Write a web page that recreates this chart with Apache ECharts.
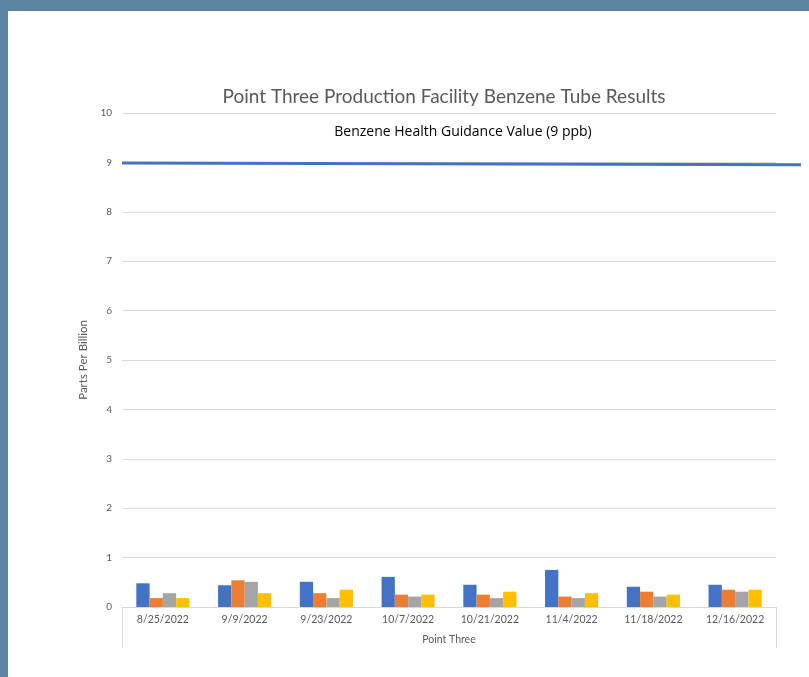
<!DOCTYPE html>
<html><head><meta charset="utf-8">
<script src="https://cdn.jsdelivr.net/npm/echarts@6/dist/echarts.min.js"></script>
<style>html,body{margin:0;padding:0;background:#5b84a0;}#c{width:809px;height:677px;}</style>
</head><body><div id="c"></div>
<script>
const categories = ['8/25/2022','9/9/2022','9/23/2022','10/7/2022','10/21/2022','11/4/2022','11/18/2022','12/16/2022'];
const seriesBlue   = [0.48, 0.44, 0.51, 0.61, 0.45, 0.75, 0.41, 0.45];
const seriesOrange = [0.18, 0.54, 0.28, 0.25, 0.25, 0.21, 0.31, 0.35];
const seriesGray   = [0.28, 0.51, 0.18, 0.21, 0.18, 0.18, 0.21, 0.31];
const seriesYellow = [0.18, 0.28, 0.35, 0.25, 0.31, 0.28, 0.25, 0.35];
const guideline = [8.99, 8.95];
const groupLabel = ['Point Three'];

const FONT = 'Lato';
const chart = echarts.init(document.getElementById('c'));
const barSeries = [
  {data: seriesBlue, color: '#4472c4'},
  {data: seriesOrange, color: '#ed7d31'},
  {data: seriesGray, color: '#a5a5a5'},
  {data: seriesYellow, color: '#ffc000'}
].map(s => ({
  type: 'bar', xAxisIndex: 0, yAxisIndex: 0, data: s.data,
  itemStyle: {color: s.color}, barGap: '0%', barCategoryGap: '35%'
}));

chart.setOption({
  backgroundColor: 'transparent',
  animation: false,
  graphic: [{type: 'rect', z: -10, silent: true, shape: {x: 8, y: 11, width: 801, height: 666}, style: {fill: '#ffffff'}}],
  title: [
    {text: 'Point Three Production Facility Benzene Tube Results', left: 439, top: 82, textAlign: 'center',
     textStyle: {fontFamily: FONT, fontSize: 19, fontWeight: 'normal', color: '#595959'}},
    {text: 'Benzene Health Guidance Value (9 ppb)', left: 458, top: 120, textAlign: 'center',
     textStyle: {fontFamily: 'Open Sans', fontSize: 14, fontWeight: 'normal', color: '#000000'}}
  ],
  grid: [
    {left: 122, right: 33, top: 113, bottom: 70},
    {left: 122, right: 8, top: 113, bottom: 70}
  ],
  xAxis: [
    {type: 'category', gridIndex: 0, data: categories, boundaryGap: true,
     axisLine: {show: true, lineStyle: {color: '#d9d9d9'}}, axisTick: {show: false},
     axisLabel: {fontFamily: FONT, fontSize: 10.5, color: '#595959', margin: 7, interval: 0}},
    {type: 'category', gridIndex: 0, data: groupLabel, position: 'bottom', boundaryGap: true,
     axisLine: {show: false}, axisTick: {show: true, length: 41, lineStyle: {color: '#d9d9d9'}},
     axisLabel: {fontFamily: FONT, fontSize: 10.5, color: '#595959', margin: 27}},
    {type: 'value', gridIndex: 1, min: 0, max: 1, show: false}
  ],
  yAxis: [
    {type: 'value', gridIndex: 0, min: 0, max: 10, interval: 1,
     name: 'Parts Per Billion', nameLocation: 'middle', nameGap: 24,
     nameTextStyle: {fontFamily: FONT, fontSize: 11.5, color: '#595959'},
     axisLine: {show: false}, axisTick: {show: false},
     axisLabel: {fontFamily: FONT, fontSize: 10, color: '#595959', margin: 10},
     splitLine: {lineStyle: {color: '#d9d9d9'}}},
    {type: 'value', gridIndex: 1, min: 0, max: 10, show: false}
  ],
  series: barSeries.concat([{
    type: 'line', xAxisIndex: 2, yAxisIndex: 1,
    data: guideline.map((v, i) => [i, v]),
    symbol: 'none', lineStyle: {color: '#4472c4', width: 3}
  }])
});
</script></body></html>
